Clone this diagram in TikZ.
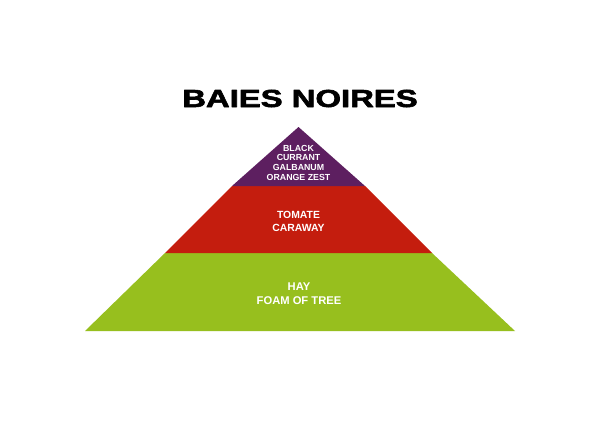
\documentclass[tikz,border=0pt]{standalone}
\usepackage{fontspec}
\setmainfont{Liberation Sans}
\newfontfamily\heavyfont[BoldFeatures={FakeBold=2.2}]{Liberation Sans}
\definecolor{PyramidPurple}{RGB}{93,31,96}
\definecolor{PyramidRed}{RGB}{196,29,14}
\definecolor{PyramidGreen}{RGB}{151,191,30}

\begin{document}
\begin{tikzpicture}[x=1bp,y=1bp,line join=round]
  \path[use as bounding box] (0,0) rectangle (600,420);
  \fill[white] (0,0) rectangle (600,420);

  \tikzset{
    title/.style={anchor=base,inner sep=0pt,text=black,xscale=1.33,
      font=\fontsize{24.7bp}{24.7bp}\heavyfont\bfseries},
    toptext/.style={anchor=base,inner sep=0pt,text=white,
      font=\fontsize{8.8bp}{8.8bp}\selectfont\bfseries},
    midtext/.style={anchor=base,inner sep=0pt,text=white,
      font=\fontsize{10.4bp}{10.4bp}\selectfont\bfseries},
    basetext/.style={anchor=base,inner sep=0pt,text=white,
      font=\fontsize{11.2bp}{11.2bp}\selectfont\bfseries},
  }

  % Title
  \node[title] (title) at (300,313) {BAIES NOIRES};

  % ==================== BASE NOTES ====================
  \fill[PyramidGreen] (85,89) -- (515,89) -- (432,167) -- (165,167) -- cycle;
  \node[basetext] (hay) at (299,129.3) {HAY};
  \node[basetext] (foam) at (299,116) {FOAM OF TREE};

  % ==================== HEART NOTES ====================
  \fill[PyramidRed] (165,167) -- (432,167) -- (365,234) -- (232,234) -- cycle;
  \node[midtext] (tomate) at (298.5,201.3) {TOMATE};
  \node[midtext] (caraway) at (298.5,188.7) {CARAWAY};

  % ==================== TOP NOTES ====================
  \fill[PyramidPurple] (232,234) -- (365,234) -- (298.5,293) -- cycle;
  \node[toptext] (black) at (298.5,269) {BLACK};
  \node[toptext] (currant) at (298.5,259.3) {CURRANT};
  \node[toptext] (galbanum) at (298.5,249.3) {GALBANUM};
  \node[toptext] (zest) at (298.5,239.3) {ORANGE ZEST};

\end{tikzpicture}
\end{document}
